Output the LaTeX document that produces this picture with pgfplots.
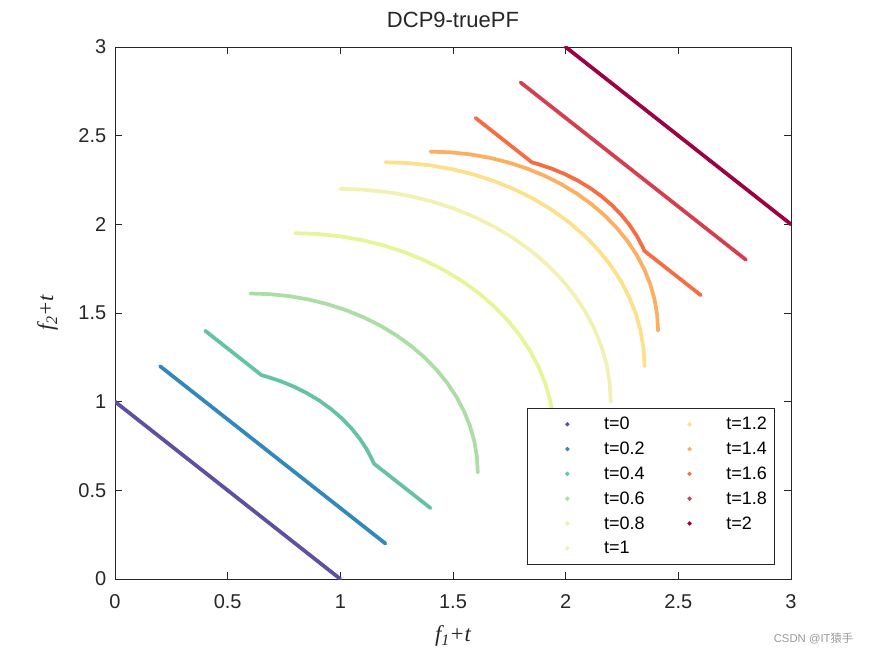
\documentclass[border=0pt]{standalone}
\usepackage{pgfplots}
\pgfplotsset{compat=1.18}
\usepackage{fontspec}
\setmainfont{Liberation Sans}
\newfontfamily\serifit{Liberation Serif}
\newfontfamily\cjk{Noto Sans CJK SC}
\definecolor{c0}{HTML}{5E4FA2}
\definecolor{c1}{HTML}{3288BD}
\definecolor{c2}{HTML}{66C2A5}
\definecolor{c3}{HTML}{ABDDA4}
\definecolor{c4}{HTML}{E6F598}
\definecolor{c5}{HTML}{F2F1B4}
\definecolor{c6}{HTML}{FEE08B}
\definecolor{c7}{HTML}{FDAE61}
\definecolor{c8}{HTML}{F46D43}
\definecolor{c9}{HTML}{D53E4F}
\definecolor{c10}{HTML}{9E0142}
\definecolor{axc}{HTML}{262626}
\pgfplotsset{
  pf/.style={color=#1, line width=2.8pt, line cap=round, line join=round, forget plot},
  dotleg/.style={color=#1,
    legend image code/.code={\fill[#1] (27pt,0pt) circle (1.3pt); \path (0pt,0pt) (51pt,0pt);}},
}
\begin{document}
\begin{tikzpicture}
\begin{axis}[name=ax,
  scale only axis, width=507pt, height=399pt,
  xmin=0, xmax=3, ymin=0, ymax=3,
  xtick={0,0.5,1,1.5,2,2.5,3}, ytick={0,0.5,1,1.5,2,2.5,3},
  tick align=inside, major tick length=5pt,
  every tick/.style={axc, line width=0.6pt},
  axis line style={axc, line width=0.6pt},
  /pgf/number format/assume math mode=true,
  tick label style={font=\fontsize{15}{17}\selectfont, text=axc},
  xticklabel style={anchor=base, yshift=-21.75pt},
  yticklabel style={anchor=east, xshift=-3pt},
  title={DCP9-truePF},
  title style={at={(axis description cs:0.5,1)}, anchor=base, yshift=8.25pt, font=\fontsize{16.5}{19}\selectfont, text=axc},
  xlabel={\serifit\itshape f\raisebox{-0.4ex}{\fontsize{12}{13}\selectfont 1}+t},
  ylabel={\serifit\itshape f\raisebox{-0.4ex}{\fontsize{12}{13}\selectfont 2}+t},
  xlabel style={at={(axis description cs:0.5,-0.118)}, anchor=base, font=\fontsize{17}{19}\selectfont, text=axc},
  ylabel style={at={(axis description cs:-0.0917,0.5)}, anchor=base, font=\fontsize{17}{19}\selectfont, text=axc},
  legend columns=2, legend cell align=left,
  legend style={at={(axis description cs:1,0)}, anchor=south east, xshift=-12pt, yshift=10.5pt,
    draw=axc, line width=0.6pt, fill=white, font=\fontsize{13.5}{16}\selectfont, text=black,
    inner xsep=2.5pt, inner ysep=5.5pt, row sep=5.1pt,
    nodes={text height=10pt, text depth=1.5pt, inner ysep=1pt, inner xsep=3.3pt},
    /tikz/every even column/.append style={column sep=3pt}},
]
% t = 0
\addplot[pf=c0] coordinates {(0,1) (1,0)};
% t = 0.2
\addplot[pf=c1] coordinates {(0.2,1.2) (1.2,0.2)};
% t = 0.4
\addplot[pf=c2] coordinates {(0.4,1.4) (0.6507,1.1491) (0.6702,1.1424) (0.7339,1.116) (0.795,1.0842) (0.8531,1.0471) (0.9078,1.0052) (0.9586,0.9586) (1.0052,0.9078) (1.0471,0.8531) (1.0842,0.795) (1.116,0.7339) (1.1424,0.6702) (1.1491,0.6507) (1.4,0.4)};
% t = 0.6
\addplot[pf=c3] coordinates {(0.6,1.61) (0.688,1.6062) (0.7754,1.5947) (0.8614,1.5756) (0.9454,1.5491) (1.0268,1.5154) (1.105,1.4747) (1.1793,1.4273) (1.2492,1.3737) (1.3142,1.3142) (1.3737,1.2492) (1.4273,1.1793) (1.4747,1.105) (1.5154,1.0268) (1.5491,0.9454) (1.5756,0.8614) (1.5947,0.7754) (1.6062,0.688) (1.61,0.6)};
% t = 0.8
\addplot[pf=c4] coordinates {(0.8,1.95) (0.9002,1.9456) (0.9997,1.9325) (1.0976,1.9108) (1.1933,1.8806) (1.286,1.8423) (1.375,1.7959) (1.4596,1.742) (1.5392,1.6809) (1.6132,1.6132) (1.6809,1.5392) (1.742,1.4596) (1.7959,1.375) (1.8423,1.286) (1.8806,1.1933) (1.9108,1.0976) (1.9325,0.9997) (1.9456,0.9002) (1.95,0.8)};
% t = 1
\addplot[pf=c5] coordinates {(1,2.2) (1.1046,2.1954) (1.2084,2.1818) (1.3106,2.1591) (1.4104,2.1276) (1.5071,2.0876) (1.6,2.0392) (1.6883,1.983) (1.7713,1.9192) (1.8485,1.8485) (1.9192,1.7713) (1.983,1.6883) (2.0392,1.6) (2.0876,1.5071) (2.1276,1.4104) (2.1591,1.3106) (2.1818,1.2084) (2.1954,1.1046) (2.2,1)};
% t = 1.2
\addplot[pf=c6] coordinates {(1.2,2.35) (1.3002,2.3456) (1.3997,2.3325) (1.4976,2.3108) (1.5933,2.2806) (1.686,2.2423) (1.775,2.1959) (1.8596,2.142) (1.9392,2.0809) (2.0132,2.0132) (2.0809,1.9392) (2.142,1.8596) (2.1959,1.775) (2.2423,1.686) (2.2806,1.5933) (2.3108,1.4976) (2.3325,1.3997) (2.3456,1.3002) (2.35,1.2)};
% t = 1.4
\addplot[pf=c7] coordinates {(1.4,2.41) (1.488,2.4062) (1.5754,2.3947) (1.6614,2.3756) (1.7454,2.3491) (1.8268,2.3154) (1.905,2.2747) (1.9793,2.2273) (2.0492,2.1737) (2.1142,2.1142) (2.1737,2.0492) (2.2273,1.9793) (2.2747,1.905) (2.3154,1.8268) (2.3491,1.7454) (2.3756,1.6614) (2.3947,1.5754) (2.4062,1.488) (2.41,1.4)};
% t = 1.6
\addplot[pf=c8] coordinates {(1.6,2.6) (1.8507,2.3491) (1.8702,2.3424) (1.9339,2.316) (1.995,2.2842) (2.0531,2.2471) (2.1078,2.2052) (2.1586,2.1586) (2.2052,2.1078) (2.2471,2.0531) (2.2842,1.995) (2.316,1.9339) (2.3424,1.8702) (2.3491,1.8507) (2.6,1.6)};
% t = 1.8
\addplot[pf=c9] coordinates {(1.8,2.8) (2.8,1.8)};
% t = 2
\addplot[pf=c10] coordinates {(2,3) (3,2)};
% legend (row-wise order giving column-wise layout)
\addlegendimage{dotleg=c0}\addlegendentry{t=0}
\addlegendimage{dotleg=c6}\addlegendentry{t=1.2}
\addlegendimage{dotleg=c1}\addlegendentry{t=0.2}
\addlegendimage{dotleg=c7}\addlegendentry{t=1.4}
\addlegendimage{dotleg=c2}\addlegendentry{t=0.4}
\addlegendimage{dotleg=c8}\addlegendentry{t=1.6}
\addlegendimage{dotleg=c3}\addlegendentry{t=0.6}
\addlegendimage{dotleg=c9}\addlegendentry{t=1.8}
\addlegendimage{dotleg=c4}\addlegendentry{t=0.8}
\addlegendimage{dotleg=c10}\addlegendentry{t=2}
\addlegendimage{dotleg=c5}\addlegendentry{t=1}
\end{axis}
\node[anchor=east, font=\fontsize{8.5}{10}\selectfont, text=black!40] at ([xshift=50.25pt,yshift=-45pt]ax.south east) {CSDN @IT\cjk 猿手};
\path ([xshift=-86.25pt,yshift=-57.75pt]ax.south west) rectangle ([xshift=63pt,yshift=35.25pt]ax.north east);
\end{tikzpicture}
\end{document}
